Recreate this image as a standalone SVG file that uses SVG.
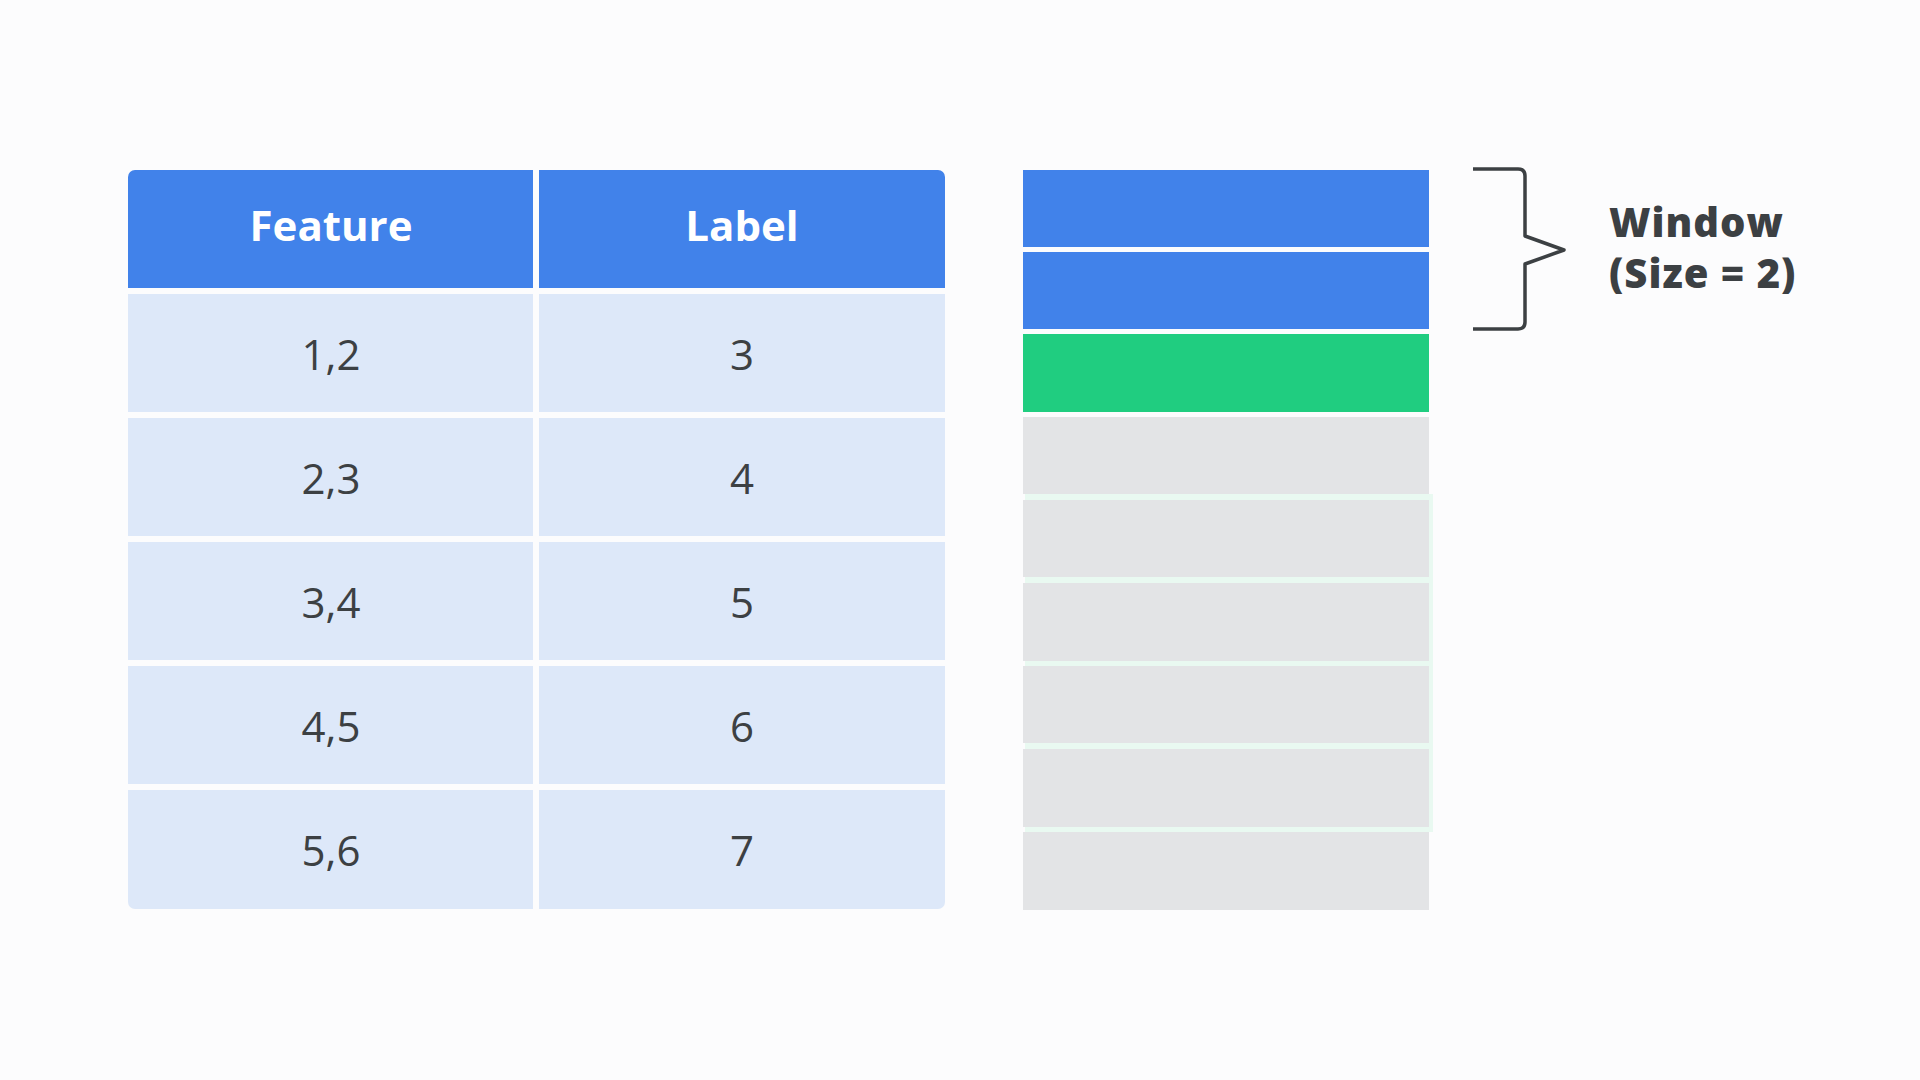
<svg xmlns="http://www.w3.org/2000/svg" width="1920" height="1080" viewBox="0 0 1920 1080">
<style>
.hdr{fill:#4182EA}
.cell{fill:#DDE8F9}
.ht{font-family:"Open Sans","Noto Sans",sans-serif;font-weight:700;font-size:42px;fill:#FFFFFF;text-anchor:middle}
.bt{font-family:"Open Sans","Noto Sans",sans-serif;font-weight:400;font-size:42px;fill:#3C4043;text-anchor:middle}
.wt{font-family:"Open Sans","Noto Sans",sans-serif;font-weight:800;font-size:40px;letter-spacing:1px;fill:#3C4043}
.win{fill:#4182EA}
.tgt{fill:#20CD80}
.rest{fill:#E3E4E6}
</style>
<defs>
<clipPath id="tbl"><rect x="128" y="170" width="817" height="739" rx="7"/></clipPath>
</defs>
<rect width="1920" height="1080" fill="#FCFCFD"/>
<g id="table" clip-path="url(#tbl)">
<g id="header">
<rect class="hdr" x="128" y="170" width="405" height="118"/>
<rect class="hdr" x="539" y="170" width="406" height="118"/>
<text class="ht" x="331" y="241">Feature</text>
<text class="ht" x="742" y="241">Label</text>
</g>
<g id="row1">
<rect class="cell" x="128" y="294" width="405" height="118"/>
<rect class="cell" x="539" y="294" width="406" height="118"/>
<text class="bt" x="331" y="370">1,2</text>
<text class="bt" x="742" y="370">3</text>
</g>
<g id="row2">
<rect class="cell" x="128" y="418" width="405" height="118"/>
<rect class="cell" x="539" y="418" width="406" height="118"/>
<text class="bt" x="331" y="494">2,3</text>
<text class="bt" x="742" y="494">4</text>
</g>
<g id="row3">
<rect class="cell" x="128" y="542" width="405" height="118"/>
<rect class="cell" x="539" y="542" width="406" height="118"/>
<text class="bt" x="331" y="618">3,4</text>
<text class="bt" x="742" y="618">5</text>
</g>
<g id="row4">
<rect class="cell" x="128" y="666" width="405" height="118"/>
<rect class="cell" x="539" y="666" width="406" height="118"/>
<text class="bt" x="331" y="742">4,5</text>
<text class="bt" x="742" y="742">6</text>
</g>
<g id="row5">
<rect class="cell" x="128" y="790" width="405" height="119"/>
<rect class="cell" x="539" y="790" width="406" height="119"/>
<text class="bt" x="331" y="866">5,6</text>
<text class="bt" x="742" y="866">7</text>
</g>
</g>
<g id="series">
<rect x="1025" y="494" width="408" height="338" fill="#E9F9F1"/>
<rect id="s1" class="win" x="1023" y="170" width="406" height="77"/>
<rect id="s2" class="win" x="1023" y="252" width="406" height="77"/>
<rect id="s3" class="tgt" x="1023" y="334" width="406" height="78"/>
<rect id="s4" class="rest" x="1023" y="417" width="406" height="77"/>
<rect id="s5" class="rest" x="1023" y="500" width="406" height="77"/>
<rect id="s6" class="rest" x="1023" y="583" width="406" height="78"/>
<rect id="s7" class="rest" x="1023" y="666" width="406" height="77"/>
<rect id="s8" class="rest" x="1023" y="749" width="406" height="78"/>
<rect id="s9" class="rest" x="1023" y="832" width="406" height="78"/>
</g>
<g id="brace">
<path d="M1473 169 H1518 Q1525 169 1525 176 V236 L1564 250 L1525 264 V322 Q1525 329 1518 329 H1473" fill="none" stroke="#3C4043" stroke-width="3.5" stroke-linejoin="round"/>
</g>
<g id="window-label">
<text class="wt" x="1609" y="237">Window</text>
<text class="wt" x="1609" y="288">(Size = 2)</text>
</g>
</svg>
